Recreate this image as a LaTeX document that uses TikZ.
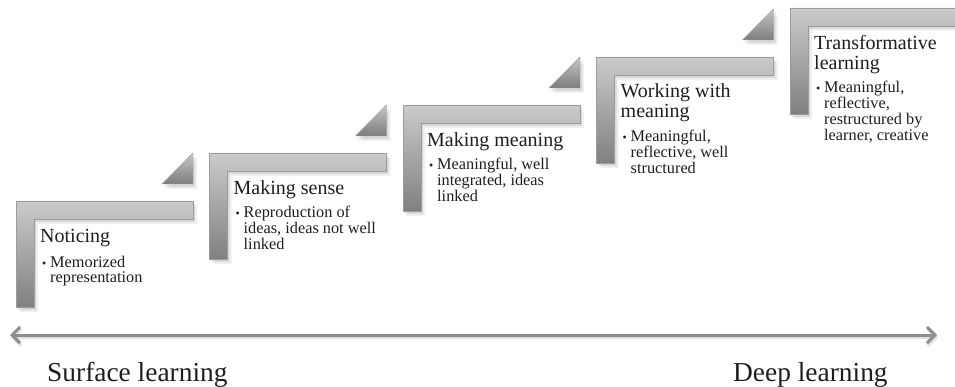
\documentclass[tikz,border=0pt]{standalone}
\usepackage{fontspec}
\setmainfont{Liberation Serif}
\usetikzlibrary{arrows.meta}
\definecolor{barTop}{HTML}{CBCBCB}
\definecolor{barBot}{HTML}{808080}
\definecolor{barEdge}{HTML}{9C9C9C}
\definecolor{triTop}{HTML}{C6C6C6}
\definecolor{triBot}{HTML}{7C7C7C}
\definecolor{arrowc}{HTML}{8E8E8E}
\definecolor{textc}{HTML}{1E1E1E}
\tikzset{
  titlenode/.style={font=\fontsize{20}{20}\selectfont, text=textc, align=left, inner sep=0pt, anchor=base west},
  bodynode/.style={font=\fontsize{16.3}{16}\selectfont, text=textc, align=left, inner sep=0pt, anchor=base west},
  bulnode/.style={font=\fontsize{12}{12}\selectfont, text=textc, inner sep=0pt, anchor=base west},
  endlabel/.style={font=\fontsize{27.4}{28}\selectfont, text=textc, inner sep=0pt, anchor=base west},
  barshape/.style={top color=barTop, bottom color=barBot, draw=barEdge, line width=0.6pt},
  trishape/.style={top color=triTop, bottom color=triBot, draw=barEdge, line width=0.4pt},
  shadowA/.style={fill=black, opacity=0.10},
  shadowB/.style={fill=black, opacity=0.06},
  axistip/.tip={Straight Barb[length=8pt,width=16pt]},
}
\begin{document}
\begin{tikzpicture}[x=1pt,y=-1pt]
\useasboundingbox (0,0) rectangle (955,387);
% L-shaped steps
\foreach \L/\T in {16/201, 209.5/153, 403/105, 596.5/57, 790/8} {
  \fill[shadowB] (\L+4,\T+5) -- ++(177,0) -- ++(0,18) -- ++(-159,0) -- ++(0,88) -- ++(-18,0) -- cycle;
  \fill[shadowA] (\L+2,\T+3) -- ++(177,0) -- ++(0,18) -- ++(-159,0) -- ++(0,88) -- ++(-18,0) -- cycle;
  \shade[barshape] (\L,\T) -- ++(177,0) -- ++(0,18) -- ++(-159,0) -- ++(0,88) -- ++(-18,0) -- cycle;
}
% triangles
\foreach \L/\T in {16/201, 209.5/153, 403/105, 596.5/57} {
  \fill[shadowB] (\L+181,\T-12) -- ++(-31,0) -- ++(31,-31) -- cycle;
  \fill[shadowA] (\L+179,\T-14) -- ++(-31,0) -- ++(31,-31) -- cycle;
  \shade[trishape] (\L+177,\T-17) -- ++(-31,0) -- ++(31,-31) -- cycle;
}
% texts step 1 (multi-line nodes are placed by the baseline of their last line)
\node[titlenode] (t1) at (40,243) {Noticing};
\node[bulnode] (b1) at (42,267) {\textbullet};
\node[bodynode] (d1) at (50,283) {Memorized\\representation};
% step 2
\node[titlenode] (t2) at (233.5,195) {Making sense};
\node[bulnode] (b2) at (235.5,218) {\textbullet};
\node[bodynode] (d2) at (243.5,250) {Reproduction of\\ideas, ideas not well\\linked};
% step 3
\node[titlenode] (t3) at (427,147) {Making meaning};
\node[bulnode] (b3) at (429,170) {\textbullet};
\node[bodynode] (d3) at (437,202) {Meaningful, well\\integrated, ideas\\linked};
% step 4
\node[titlenode] (t4) at (620.5,118) {Working with\\meaning};
\node[bulnode] (b4) at (622.5,142) {\textbullet};
\node[bodynode] (d4) at (630.5,174) {Meaningful,\\reflective, well\\structured};
% step 5
\node[titlenode] (t5) at (814,70) {Transformative\\learning};
\node[bulnode] (b5) at (816,93) {\textbullet};
\node[bodynode] (d5) at (824,141) {Meaningful,\\reflective,\\restructured by\\learner, creative};
% axis arrow
\coordinate (arrL) at (10,335);
\coordinate (arrR) at (937,335);
\coordinate (arrLs) at (11,337.5);
\coordinate (arrRs) at (938,337.5);
\draw[black, opacity=0.12, line width=3pt, {axistip}-{axistip}] (arrLs) -- (arrRs);
\draw[arrowc, line width=3pt, {axistip}-{axistip}] (arrL) -- (arrR);
% end labels
\node[endlabel] (surf) at (47,381) {Surface learning};
\node[endlabel] (deep) at (733,381) {Deep learning};
\end{tikzpicture}
\end{document}
